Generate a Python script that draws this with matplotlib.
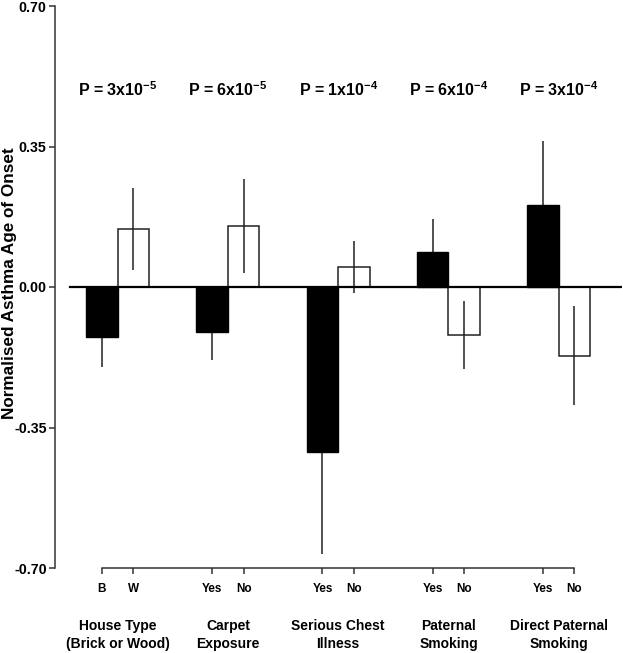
import numpy as np
import matplotlib.pyplot as plt
from matplotlib import transforms

# Settings
plt.rcParams['font.family'] = ['Liberation Sans', 'DejaVu Sans']
plt.rcParams['mathtext.default'] = 'regular'

# Data (normalised asthma age of onset)
groups = ['House Type\n(Brick or Wood)', 'Carpet\nExposure', 'Serious Chest\nIllness',
          'Paternal\nSmoking', 'Direct Paternal\nSmoking']
level_labels = ['B', 'W', 'Yes', 'No', 'Yes', 'No', 'Yes', 'No', 'Yes', 'No']
p_labels = ['P = 3x10$^{-5}$', 'P = 6x10$^{-5}$', 'P = 1x10$^{-4}$',
            'P = 6x10$^{-4}$', 'P = 3x10$^{-4}$']
first_vals = [-0.124, -0.112, -0.411, 0.088, 0.205]   # B / Yes (black)
first_err = [0.076, 0.069, 0.253, 0.082, 0.158]
second_vals = [0.145, 0.153, 0.050, -0.120, -0.171]  # W / No (white)
second_err = [0.102, 0.117, 0.064, 0.085, 0.124]

fig = plt.figure(figsize=(6.23, 6.53), dpi=100)
ax = fig.add_axes([55 / 623, 85 / 653, 567 / 623, 562 / 653])

gap = 3.5
x1 = np.arange(len(groups)) * gap
x2 = x1 + 1
centers = x1 + 0.5

# black bars hide the inner half of their error bars
ax.errorbar(x1, first_vals, yerr=first_err, fmt='none', ecolor='#222222', elinewidth=1.1, capsize=0, zorder=1)
ax.bar(x1, first_vals, width=1, color='black', edgecolor='black', linewidth=1, zorder=2)
ax.bar(x2, second_vals, width=1, color='white', edgecolor='#222222', linewidth=1.1, zorder=2)
ax.errorbar(x2, second_vals, yerr=second_err, fmt='none', ecolor='#222222', elinewidth=1.1, capsize=0, zorder=3)
ax.axhline(0, xmin=15 / 567, xmax=1, color='black', linewidth=1.6, zorder=4)

ax.set_xlim(-1.492, 16.508)
ax.set_ylim(-0.70, 0.70)

# Axes
for s in ['top', 'right']:
    ax.spines[s].set_visible(False)
ax.spines['left'].set_bounds(-0.70, 0.70)
ax.spines['bottom'].set_bounds(x1[0], x2[-1])
for s in ['left', 'bottom']:
    ax.spines[s].set_linewidth(1.1)
    ax.spines[s].set_color('#333333')

ax.set_yticks([-0.70, -0.35, 0.0, 0.35, 0.70])
ax.set_yticklabels(['-0.70', '-0.35', '0.00', '0.35', '0.70'], fontsize=10.3, fontweight='bold')
ax.tick_params(axis='y', length=4.5, width=1.1, color='#333333', pad=1.5)

xt = np.ravel(np.column_stack([x1, x2]))
ax.set_xticks(xt)
ax.set_xticklabels(level_labels, fontsize=8.5, fontweight='bold')
ax.tick_params(axis='x', length=4.5, width=1.1, color='#333333', pad=6)

# P values
for c, p in zip(centers, p_labels):
    ax.text(c, 0.476, p, ha='center', va='baseline', fontsize=11.5, fontweight='bold')

# Group labels below the axis
trans = transforms.blended_transform_factory(ax.transData, ax.transAxes)
for c, g in zip(centers, groups):
    ax.text(c, -0.119, g, transform=trans, ha='center', va='center',
            fontsize=10, fontweight='bold', linespacing=1.35)

fig.text(10 / 623, (653 - 283) / 653, 'Normalised Asthma Age of Onset', rotation=90,
         ha='center', va='center', fontsize=12.3, fontweight='bold')

plt.savefig('out.png', dpi=100)
